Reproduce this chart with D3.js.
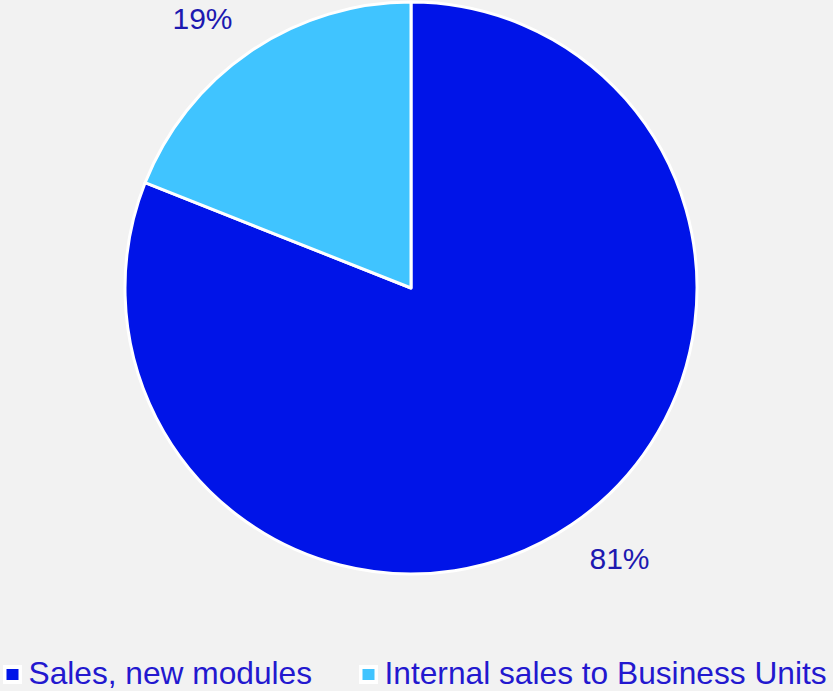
<!DOCTYPE html>
<html>
<head>
<meta charset="utf-8">
<script src="https://cdn.jsdelivr.net/npm/d3@7"></script>
<style>
  html, body { margin: 0; padding: 0; background: #f2f2f2; }
  svg { display: block; font-family: "Liberation Sans", Arial, sans-serif; }
</style>
</head>
<body>
<div id="chart"></div>
<script>
// chart values
const categories = ["Sales, new modules", "Internal sales to Business Units"];
const shares = [81, 19];
const colors = ["#0014e8", "#40c4ff"];

const width = 833, height = 691;
const cx = 411, cy = 288, radius = 286;
const labelRadius = 341, labelShift = -0.061;

const svg = d3.select("#chart").append("svg")
    .attr("width", width)
    .attr("height", height);

svg.append("rect")
    .attr("width", width)
    .attr("height", height)
    .attr("fill", "#f2f2f2");

const data = categories.map((c, i) => ({ name: c, value: shares[i], color: colors[i] }));

const pie = d3.pie()
    .sort(null)
    .value(d => d.value);

const arc = d3.arc()
    .innerRadius(0)
    .outerRadius(radius);

// label position: a little before the slice's middle angle
const labelPos = d => {
    const a = (d.startAngle + d.endAngle) / 2 + labelShift;
    return [labelRadius * Math.sin(a), -labelRadius * Math.cos(a)];
};

const g = svg.append("g")
    .attr("transform", `translate(${cx},${cy})`);

const arcs = pie(data);

g.selectAll("path.slice")
    .data(arcs)
    .enter()
    .append("path")
    .attr("class", "slice")
    .attr("d", arc)
    .attr("fill", d => d.data.color)
    .attr("stroke", "#ffffff")
    .attr("stroke-width", 3)
    .attr("stroke-linejoin", "round");

g.selectAll("text.pct")
    .data(arcs)
    .enter()
    .append("text")
    .attr("class", "pct")
    .attr("transform", d => `translate(${labelPos(d)})`)
    .attr("text-anchor", "middle")
    .attr("dy", "0.36em")
    .attr("font-size", 30)
    .attr("fill", "#1d19b0")
    .text(d => d.data.value + "%");

// legend
const legendX = [3, 359];
const legend = svg.selectAll("g.legend-item")
    .data(data)
    .enter()
    .append("g")
    .attr("class", "legend-item")
    .attr("transform", (d, i) => `translate(${legendX[i]},665)`);

legend.append("rect")
    .attr("width", 19)
    .attr("height", 19)
    .attr("fill", "#ffffff");

legend.append("rect")
    .attr("x", 3.5)
    .attr("y", 4)
    .attr("width", 12)
    .attr("height", 11)
    .attr("fill", d => d.color);

legend.append("text")
    .attr("x", 25.5)
    .attr("y", 19)
    .attr("font-size", 31.7)
    .attr("fill", "#2318cf")
    .text(d => d.name);
</script>
</body>
</html>
